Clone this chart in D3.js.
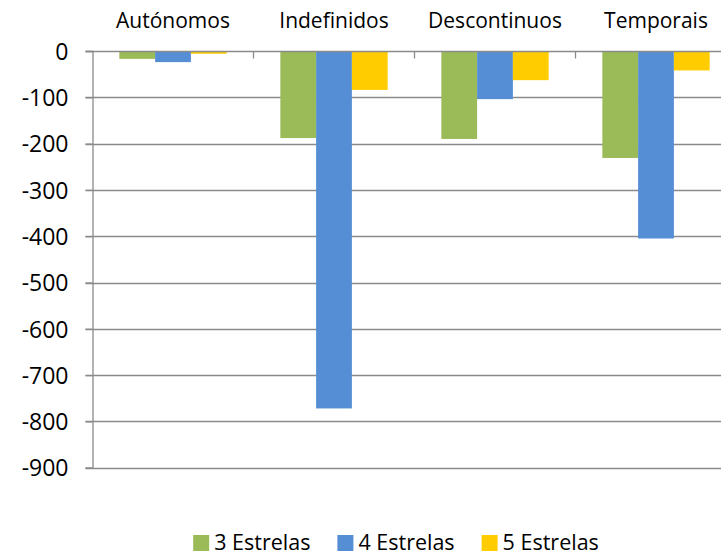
<!DOCTYPE html>
<html>
<head>
<meta charset="utf-8">
<script src="https://cdn.jsdelivr.net/npm/d3@7"></script>
<style>
  body { margin: 0; background: #fff; }
  svg { display: block; font-family: "Open Sans", sans-serif; }
</style>
</head>
<body>
<div id="chart"></div>
<script>
const categories = ["Autónomos", "Indefinidos", "Descontinuos", "Temporais"];
const seriesNames = ["3 Estrelas", "4 Estrelas", "5 Estrelas"];
const estrelas3 = [-17, -188, -190, -231];
const estrelas4 = [-24, -772, -104, -405];
const estrelas5 = [-6, -84, -63, -42];
const yTicks = [0, -100, -200, -300, -400, -500, -600, -700, -800, -900];
const colors = ["#9BBB59", "#558ED5", "#FFCC00"];

const values = [estrelas3, estrelas4, estrelas5];

const W = 721, H = 556;
const plotLeft = 92.5, plotRight = 736.5, plotTop = 51, plotBottom = 467.7;

const svg = d3.select('#chart')
  .append('svg')
  .attr('width', W)
  .attr('height', H);

const y = d3.scaleLinear().domain([-900, 0]).range([plotBottom, plotTop]);
const x0 = d3.scaleBand().domain(categories).range([plotLeft, plotRight]);
const x1 = d3.scaleBand().domain(seriesNames).range([0, x0.bandwidth()]).paddingOuter(0.75);

// horizontal gridlines
svg.append('g')
  .selectAll('line')
  .data(yTicks.filter(d => d !== 0))
  .enter()
  .append('line')
  .attr('x1', plotLeft - 7)
  .attr('x2', plotRight)
  .attr('y1', d => Math.round(y(d)) + 0.5)
  .attr('y2', d => Math.round(y(d)) + 0.5)
  .attr('stroke', '#8a8a8a')
  .attr('stroke-width', 1.3);

// bars
const groups = svg.append('g')
  .selectAll('g')
  .data(categories)
  .enter()
  .append('g')
  .attr('transform', d => 'translate(' + x0(d) + ',0)');

groups.selectAll('rect')
  .data((d, i) => seriesNames.map((s, j) => ({ s: s, v: values[j][i], c: colors[j] })))
  .enter()
  .append('rect')
  .attr('x', d => x1(d.s))
  .attr('width', x1.bandwidth())
  .attr('y', y(0))
  .attr('height', d => y(d.v) - y(0))
  .attr('fill', d => d.c);

// y axis
const yAxis = svg.append('g')
  .attr('transform', 'translate(' + plotLeft + ',0)')
  .call(d3.axisLeft(y).tickValues(yTicks).tickFormat(d => String(d)).tickSize(7).tickPadding(17));
yAxis.select('.domain').attr('stroke', '#8a8a8a').attr('stroke-width', 1.3);
yAxis.selectAll('.tick line').attr('stroke', '#8a8a8a').attr('stroke-width', 1.3);
yAxis.selectAll('.tick text')
  .attr('fill', '#000')
  .attr('dy', '0.36em')
  .style('font-size', '23px')
  .style('font-family', '"Open Sans", sans-serif');

// category axis on zero line, labels on top
const xAxis = svg.append('g')
  .attr('transform', 'translate(0,' + (Math.round(y(0)) + 0.5) + ')');
xAxis.append('line')
  .attr('x1', plotLeft - 7)
  .attr('x2', plotRight)
  .attr('stroke', '#8a8a8a')
  .attr('stroke-width', 1.3);
xAxis.selectAll('line.cat-tick')
  .data(categories.slice(1))
  .enter()
  .append('line')
  .attr('class', 'cat-tick')
  .attr('x1', d => x0(d))
  .attr('x2', d => x0(d))
  .attr('y1', 0)
  .attr('y2', 7)
  .attr('stroke', '#8a8a8a')
  .attr('stroke-width', 1.3);

svg.append('g')
  .selectAll('text')
  .data(categories)
  .enter()
  .append('text')
  .attr('x', d => x0(d) + x0.bandwidth() / 2)
  .attr('y', 28)
  .attr('text-anchor', 'middle')
  .style('font-size', '21px')
  .text(d => d);

// legend
const legend = svg.append('g').attr('transform', 'translate(0,535)');
const items = legend.selectAll('g')
  .data(seriesNames)
  .enter()
  .append('g');
items.append('rect')
  .attr('width', 16)
  .attr('height', 16)
  .attr('fill', (d, i) => colors[i]);
items.append('text')
  .attr('x', 21)
  .attr('y', 15)
  .style('font-size', '21.5px')
  .text(d => d);

const GAP = 27;
let offset = 0;
const pos = [];
items.each(function () {
  pos.push(offset);
  offset += this.getBBox().width + GAP;
});
const total = offset - GAP;
const startX = 396 - total / 2;
items.attr('transform', (d, i) => 'translate(' + (startX + pos[i]) + ',0)');
</script>
</body>
</html>
